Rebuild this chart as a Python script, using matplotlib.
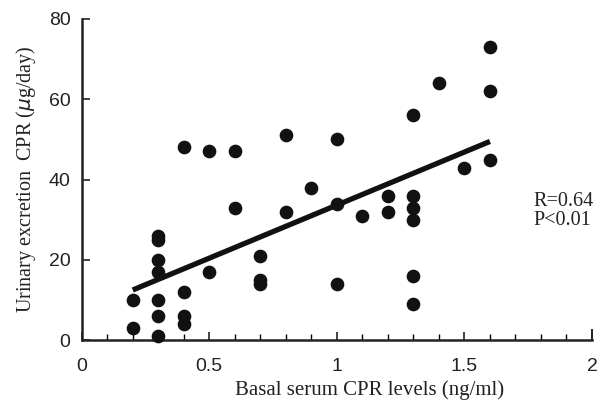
import numpy as np
import matplotlib.pyplot as plt
from matplotlib.ticker import MultipleLocator

# Basal serum CPR (ng/ml) vs urinary CPR (ug/day)
cpr_serum = [0.2, 0.2,
             0.3, 0.3, 0.3, 0.3, 0.3, 0.3, 0.3,
             0.4, 0.4, 0.4, 0.4,
             0.5, 0.5,
             0.6, 0.6,
             0.7, 0.7, 0.7,
             0.8, 0.8,
             0.9,
             1.0, 1.0, 1.0,
             1.1,
             1.2, 1.2,
             1.3, 1.3, 1.3, 1.3, 1.3, 1.3,
             1.4,
             1.5,
             1.6, 1.6, 1.6]
cpr_urine = [10, 3,
             26, 25, 20, 17, 10, 6, 1,
             48, 12, 6, 4,
             47, 17,
             47, 33,
             21, 15, 14,
             51, 32,
             38,
             50, 34, 14,
             31,
             36, 32,
             56, 36, 33, 30, 16, 9,
             64,
             43,
             73, 62, 45]

# regression line end points as printed
fit_x = [0.2, 1.6]
fit_y = [12.5, 49.5]

serif = 'Liberation Serif'
sans = 'Liberation Sans'

fig = plt.figure(figsize=(6.01, 4.04), dpi=100)
ax = fig.add_axes([0.136, 0.158, 0.849, 0.795])

ax.scatter(cpr_serum, cpr_urine, s=78, color='#111111', zorder=3, clip_on=False)
ax.plot(fit_x, fit_y, color='#111111', lw=3.8, solid_capstyle='butt', zorder=2)

ax.set_xlim(0, 2)
ax.set_ylim(0, 80)
ax.xaxis.set_minor_locator(MultipleLocator(0.1))
ax.yaxis.set_major_locator(MultipleLocator(20))
ax.set_xticks([0, 0.5, 1, 1.5, 2])
ax.set_xticklabels(['0', '0.5', '1', '1.5', '2'])

for s in ['top', 'right']:
    ax.spines[s].set_visible(False)
for s in ['left', 'bottom']:
    ax.spines[s].set_linewidth(1.8)
    ax.spines[s].set_color('#222222')

ax.tick_params(axis='both', which='major', direction='in', length=6, width=1.2,
               labelsize=14, colors='#222222')
ax.tick_params(axis='x', which='major', pad=13)
ax.tick_params(axis='y', which='major', pad=8)
ax.tick_params(axis='x', which='minor', direction='in', length=4, width=1.0)
for lab in ax.get_xticklabels() + ax.get_yticklabels():
    lab.set_fontfamily(sans)
    lab.set_color('#222222')

# right end tick at x=2
ax.plot([2, 2], [0, 2.5], color='#222222', lw=1.4, clip_on=False)

ax.set_xlabel('Basal serum CPR levels (ng/ml)', fontfamily=serif, fontsize=15,
              color='#222222')
ax.xaxis.set_label_coords(0.565, -0.125)
ax.set_ylabel(r'Urinary excretion  CPR ($\mu$g/day)', fontfamily=serif, fontsize=14.5,
              color='#222222', labelpad=8)

ax.text(1.77, 36.8, 'R=0.64\nP<0.01', fontfamily=serif, fontsize=14.5,
        color='#222222', va='top', ha='left', linespacing=1.0)

fig.savefig('out.png', dpi=100)
